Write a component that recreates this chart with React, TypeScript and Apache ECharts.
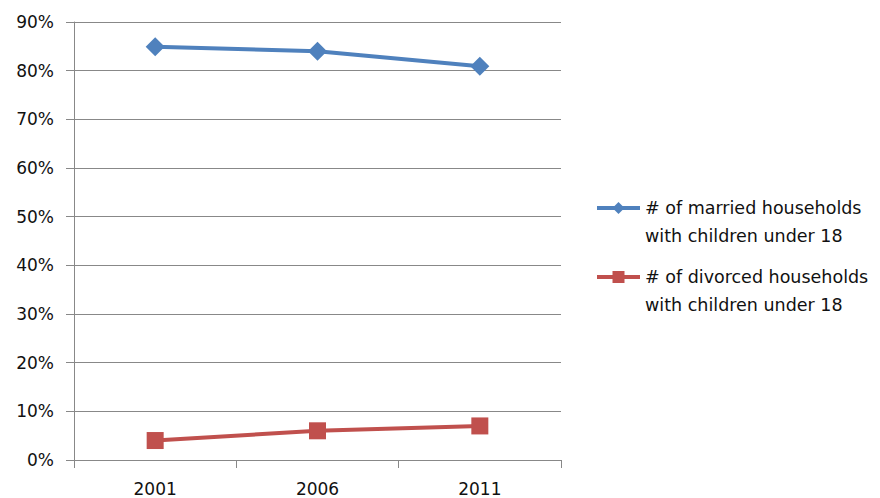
import React, { useEffect, useRef } from "react";
import * as echarts from "echarts";

const years = ["2001", "2006", "2011"];
const marriedShare = [84.9, 84.0, 80.9];
const divorcedShare = [4.0, 6.0, 7.0];
const seriesNames = [
  "# of married households\nwith children under 18",
  "# of divorced households\nwith children under 18",
];

const FONT = "DejaVu Sans";
const GRID_GRAY = "#888888";
const TEXT = "#111111";

export default function App() {
  const ref = useRef<HTMLDivElement>(null);

  useEffect(() => {
    if (!ref.current) return;
    const chart = echarts.init(ref.current, undefined, { renderer: "svg" });
    chart.setOption({
      animation: false,
      backgroundColor: "#ffffff",
      textStyle: { fontFamily: FONT },
      grid: { left: 74, right: 319, top: 22, bottom: 38 },
      legend: {
        orient: "vertical",
        left: 595,
        top: 166,
        padding: 0,
        itemWidth: 43,
        itemHeight: 15,
        itemGap: -15,
        data: seriesNames,
        // a blank first line keeps the marker level with the name's first line
        formatter: (name: string) => "\u00a0\n" + name,
        lineStyle: { width: 4 },
        textStyle: {
          fontFamily: FONT,
          fontSize: 17.5,
          color: TEXT,
          lineHeight: 28,
        },
      },
      xAxis: {
        type: "category",
        data: years,
        boundaryGap: true,
        axisLine: { lineStyle: { color: GRID_GRAY, width: 1 } },
        axisTick: { show: true, length: 8, alignWithLabel: false, lineStyle: { color: GRID_GRAY } },
        axisLabel: { fontFamily: FONT, fontSize: 17, color: TEXT, margin: 20 },
      },
      yAxis: {
        type: "value",
        min: 0,
        max: 90,
        interval: 10,
        axisLine: { show: true, lineStyle: { color: GRID_GRAY, width: 1 } },
        axisTick: { show: true, length: 8, inside: false, lineStyle: { color: GRID_GRAY } },
        splitLine: { show: true, lineStyle: { color: GRID_GRAY, width: 1 } },
        axisLabel: {
          fontFamily: FONT,
          fontSize: 17,
          color: TEXT,
          margin: 20,
          formatter: (v: number) => `${v}%`,
        },
      },
      series: [
        {
          name: seriesNames[0],
          type: "line",
          data: marriedShare,
          symbol: "diamond",
          symbolSize: 19,
          color: "#4F81BD",
          lineStyle: { width: 4, color: "#4F81BD" },
          itemStyle: { color: "#4F81BD" },
        },
        {
          name: seriesNames[1],
          type: "line",
          data: divorcedShare,
          symbol: "rect",
          symbolSize: 17,
          color: "#C0504D",
          lineStyle: { width: 4, color: "#C0504D" },
          itemStyle: { color: "#C0504D" },
        },
      ],
    });
    return () => chart.dispose();
  }, []);

  return (
    <div
      ref={ref}
      style={{ position: "fixed", left: 0, top: 0, width: 880, height: 498 }}
    />
  );
}
